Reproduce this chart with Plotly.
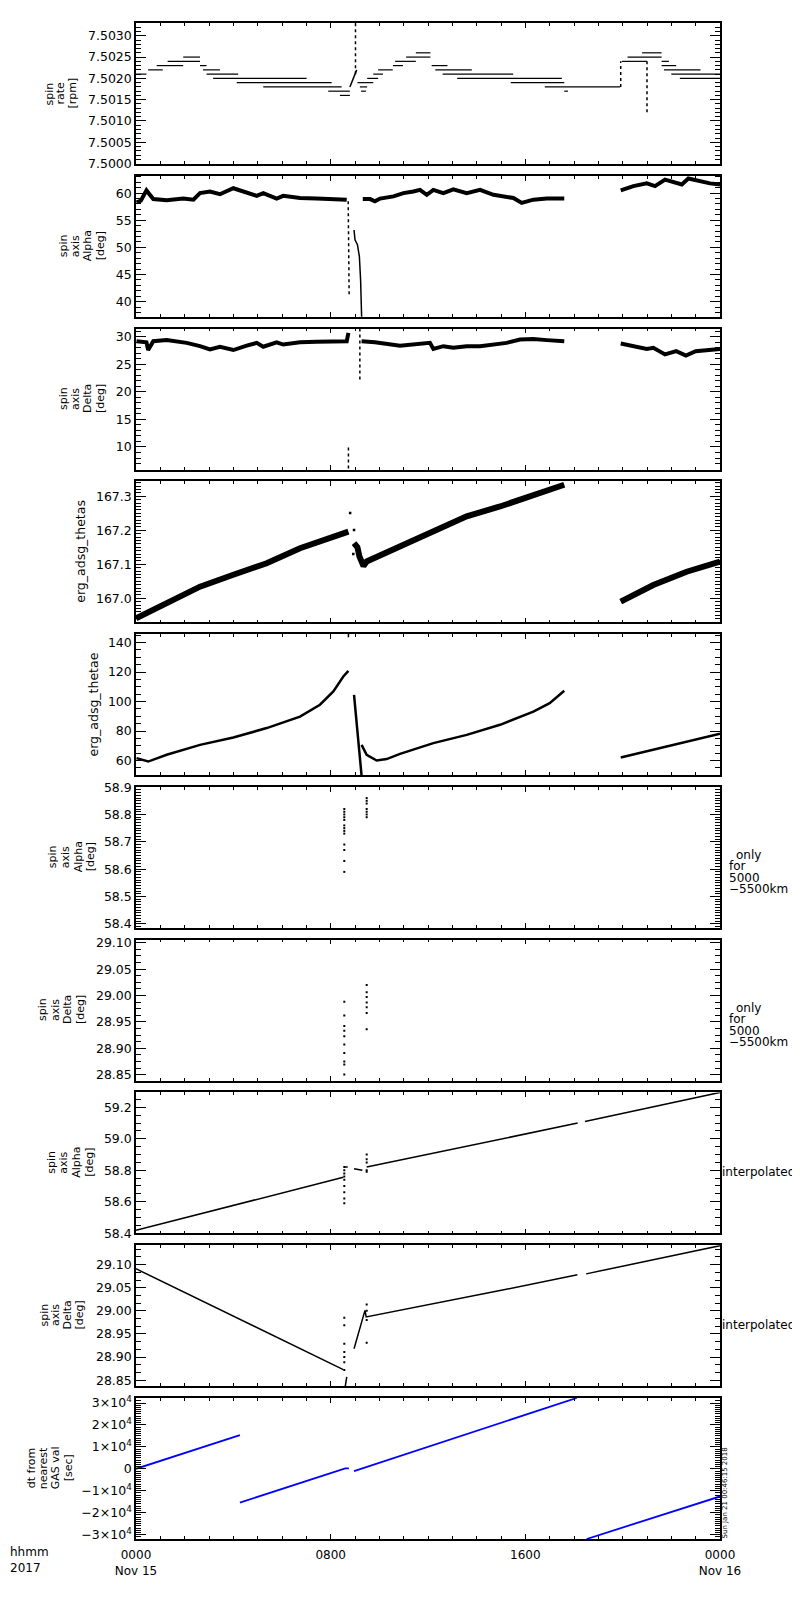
import plotly.graph_objects as go
from plotly.subplots import make_subplots

# time axis: hours after 2017-11-15 00:00

# spin rate [rpm] - flat runs (start hour, end hour, value)
rate_start = [0.00, 0.50, 0.85, 1.30, 1.94, 2.63, 2.75, 2.90, 3.17, 4.14, 5.23, 7.90, 8.38,
              9.10, 9.20, 9.25, 9.50, 9.75, 9.95, 10.56, 10.65, 11.10, 11.50,
              12.15, 12.30, 12.60, 13.20, 15.40, 16.80, 17.60,
              19.97, 20.20, 20.80, 21.60, 21.60, 21.70, 22.00, 22.35]
rate_end = [0.43, 1.10, 1.94, 2.63, 2.63, 2.90, 3.45, 4.20, 7.01, 8.04, 8.45, 8.79, 8.79,
            9.75, 9.50, 9.45, 9.95, 10.15, 10.55, 10.97, 11.50, 12.10, 12.10,
            12.80, 13.80, 15.50, 17.50, 17.60, 19.90, 17.75,
            21.00, 21.60, 21.60, 21.90, 22.20, 23.20, 24.00, 24.00]
rate_val = [7.5021, 7.5022, 7.5023, 7.5024, 7.5025, 7.5023, 7.5022, 7.5021, 7.5020, 7.5019, 7.5018, 7.5017, 7.5016,
            7.5019, 7.5018, 7.5017, 7.5020, 7.5021, 7.5022, 7.5023, 7.5024, 7.5025, 7.5026,
            7.5023, 7.5022, 7.5021, 7.5020, 7.5019, 7.5018, 7.5017,
            7.5024, 7.5025, 7.5026, 7.5024, 7.5023, 7.5022, 7.5021, 7.5020]
rate_ramp_t = [8.79, 9.07]
rate_ramp_v = [7.5018, 7.5022]
rate_spike_t = [9.02, 9.02, None, 19.92, 19.92, None, 21.0, 21.0]
rate_spike_v = [7.5021, 7.5033, None, 7.5018, 7.5024, None, 7.5024, 7.5012]

# spin axis Alpha [deg]
alpha_t = [0.02, 0.2, 0.43, 0.71, 1.26, 1.94, 2.36, 2.63, 3.04, 3.45, 4.0, 4.55, 4.96, 5.23, 5.78,
           6.05, 6.74, 7.42, 8.11, 8.66, None,
           9.32, 9.62, 9.82, 10.03, 10.58, 10.99, 11.4, 11.67, 11.95, 12.22, 12.63, 13.04, 13.59,
           14.14, 14.69, 15.23, 15.51, 15.85, 16.33, 16.88, 17.6, None,
           19.92, 20.44, 20.99, 21.33, 21.74, 22.08, 22.43, 22.7, 23.18, 23.59, 24.0]
alpha_v = [58.3, 58.6, 60.5, 58.9, 58.7, 59.0, 58.8, 60.0, 60.3, 59.8, 60.9, 60.0, 59.5, 60.0, 59.0,
           59.5, 59.1, 59.0, 58.8, 58.8, None,
           58.9, 58.9, 58.5, 59.0, 59.4, 60.0, 60.3, 60.6, 59.7, 60.6, 60.0, 60.7, 60.0,
           60.6, 59.7, 59.4, 59.1, 58.2, 58.8, 59.0, 59.0, None,
           60.5, 61.3, 61.8, 61.3, 62.5, 62.0, 61.6, 62.7, 62.2, 61.8, 61.6]
alpha_fall_t = [8.96, 9.0, 9.1, 9.18, 9.23, 9.28]
alpha_fall_v = [53.2, 51.4, 50.5, 48.3, 44.0, 36.0]
alpha_spike_t = [8.72, 8.76]
alpha_spike_v = [58.5, 40.9]

# spin axis Delta [deg]
delta_t = [0.02, 0.43, 0.5, 0.71, 1.26, 2.08, 2.63, 3.04, 3.45, 4.0, 4.55, 4.96, 5.23, 5.78, 6.05,
           6.74, 7.42, 8.66, 8.73, None,
           9.27, 9.82, 10.85, 12.08, 12.22, 12.63, 13.04, 13.59, 14.14, 14.69, 15.23, 15.78,
           16.33, 16.88, 17.6, None,
           19.92, 20.44, 20.99, 21.26, 21.74, 22.2, 22.6, 23.0, 23.59, 24.0]
delta_v = [29.2, 29.0, 27.6, 29.2, 29.4, 28.9, 28.3, 27.7, 28.2, 27.6, 28.4, 28.9, 28.2, 29.0, 28.6,
           29.0, 29.1, 29.2, 30.7, None,
           29.2, 29.0, 28.4, 28.9, 27.8, 28.3, 28.0, 28.3, 28.3, 28.6, 28.9, 29.5,
           29.6, 29.4, 29.2, None,
           28.8, 28.3, 27.8, 28.0, 26.8, 27.4, 26.6, 27.4, 27.7, 27.8]
delta_spike_t = [8.73, 8.73, None, 9.2, 9.2]
delta_spike_v = [9.9, 6.0, None, 31.5, 21.9]

# erg_adsg_thetas
thetas_t = [0.0, 1.26, 2.63, 4.0, 5.37, 6.74, 8.11, 8.73, None,
            8.96, 9.1, 9.18, 9.27, 9.35, 9.48, 10.85, 12.22, 13.59, 14.96, 16.33, 17.6, None,
            19.92, 21.26, 22.63, 24.0]
thetas_v = [166.941, 166.985, 167.034, 167.069, 167.103, 167.147, 167.182, 167.196, None,
            167.162, 167.15, 167.123, 167.103, 167.095, 167.108, 167.152, 167.2, 167.241, 167.27,
            167.305, 167.334, None,
            166.99, 167.039, 167.078, 167.108]
thetas_dot_t = [8.8, 8.96, 8.93]
thetas_dot_v = [167.251, 167.201, 167.13]

# erg_adsg_thetae
thetae_t = [0.02, 0.5, 1.26, 2.63, 4.0, 5.37, 6.74, 7.56, 8.11, 8.52, 8.73, None,
            8.96, 9.28, None,
            9.27, 9.48, 9.89, 10.3, 10.85, 12.22, 13.59, 14.96, 16.33, 17.0, 17.6, None,
            19.92, 21.26, 22.63, 24.0]
thetae_v = [61.6, 59.3, 63.9, 70.6, 75.6, 82.0, 89.8, 97.8, 106.8, 117.0, 120.8, None,
            104.5, 48.0, None,
            70.6, 63.9, 60.0, 61.0, 64.5, 71.8, 77.4, 84.2, 93.2, 98.9, 107.3, None,
            62.0, 67.3, 72.2, 78.1]
thetae_spike_t = [8.73, 8.73]
thetae_spike_v = [143.5, 146.0]

# spin axis Alpha, only for 5000-5500 km
alpha_alt_t = [8.56] * 13 + [9.48] * 7
alpha_alt_v = [58.82, 58.81, 58.80, 58.79, 58.78, 58.76, 58.75, 58.74, 58.73, 58.69, 58.67, 58.63, 58.59,
               58.86, 58.85, 58.84, 58.82, 58.81, 58.80, 58.79]

# spin axis Delta, only for 5000-5500 km
delta_alt_t = [8.56] * 10 + [9.48] * 7
delta_alt_v = [28.988, 28.962, 28.942, 28.933, 28.923, 28.907, 28.891, 28.875, 28.869, 28.850,
               29.020, 29.006, 28.997, 28.987, 28.978, 28.967, 28.936]

# spin axis Alpha, interpolated
alpha_int_t = [0.0, 8.52, None, 8.58, 8.70, None, 8.96, 9.30, None, 9.48, 18.15, None, 18.45, 24.0]
alpha_int_v = [58.418, 58.755, None, 58.82, 58.82, None, 58.81, 58.80, None, 58.82, 59.10, None, 59.11, 59.295]
alpha_int_dot_t = [8.56] * 9 + [9.48] * 5
alpha_int_dot_v = [58.82, 58.80, 58.78, 58.76, 58.74, 58.70, 58.66, 58.62, 58.59,
                   58.90, 58.87, 58.85, 58.80, 58.79]

# spin axis Delta, interpolated
delta_int_t = [0.0, 8.52, None, 8.58, 8.66, None, 8.96, 9.41, 9.46, 10.85, 14.96, 18.14, None, 18.5, 24.0]
delta_int_v = [29.091, 28.873, None, 28.83, 28.857, None, 28.918, 29.001, 28.987, 29.001, 29.044, 29.078,
               None, 29.08, 29.141]
delta_int_dot_t = [8.56] * 7 + [9.48] * 4
delta_int_dot_v = [28.985, 28.969, 28.929, 28.911, 28.900, 28.889, 28.872,
                   29.014, 29.0, 28.98, 28.931]

# dt from nearest GAS val [sec]
dt_t = [0.0, 4.27, None, 4.27, 8.6, 8.75, None, 8.96, 18.11, None, 18.52, 24.0]
dt_v = [0, 15400, None, -15400, 200, 200, None, -1100, 32300, None, -32000, -12600]
dt_tickvals = [-30000, -20000, -10000, 0, 10000, 20000, 30000]
dt_ticktext = ["\u22123\u00d710<sup>4</sup>", "\u22122\u00d710<sup>4</sup>", "\u22121\u00d710<sup>4</sup>", "0",
               "1\u00d710<sup>4</sup>", "2\u00d710<sup>4</sup>", "3\u00d710<sup>4</sup>"]

x_tickvals = [0, 8, 16, 24]
x_ticktext = ["0000<br>Nov 15", "0800", "1600", "0000<br>Nov 16"]

FONT = "DejaVu Sans"
# page body has an 8px margin, so the figure is drawn 8px smaller and offset
W, H = 792, 1584
L, T = 128, 15
PW, PH = 584, 1516
R, B = W - L - PW, H - T - PH
PITCH = 152.75

fig = make_subplots(rows=10, cols=1, shared_xaxes=True, vertical_spacing=11.75 / PH)


def line(row, t, v, width=1.5, color="black", dash="solid"):
    fig.add_trace(go.Scatter(x=t, y=v, mode="lines", line=dict(color=color, width=width, dash=dash),
                             hoverinfo="skip", showlegend=False), row=row, col=1)


def dots(row, t, v, size=2.5):
    fig.add_trace(go.Scatter(x=t, y=v, mode="markers", marker=dict(color="black", size=size, symbol="square"),
                             hoverinfo="skip", showlegend=False), row=row, col=1)


rx, ry = [], []
for a, b, val in zip(rate_start, rate_end, rate_val):
    rx += [a, b, None]
    ry += [val, val, None]
line(1, rx, ry, width=1.2)
line(1, rate_ramp_t, rate_ramp_v)
line(1, rate_spike_t, rate_spike_v, dash="dot")

line(2, alpha_t, alpha_v, width=4)
line(2, alpha_fall_t, alpha_fall_v)
line(2, alpha_spike_t, alpha_spike_v, dash="dot")

line(3, delta_t, delta_v, width=4)
line(3, delta_spike_t, delta_spike_v, dash="dot")

line(4, thetas_t, thetas_v, width=6)
dots(4, thetas_dot_t, thetas_dot_v)

line(5, thetae_t, thetae_v, width=2.5)
line(5, thetae_spike_t, thetae_spike_v)

dots(6, alpha_alt_t, alpha_alt_v, size=2)
dots(7, delta_alt_t, delta_alt_v, size=2)

line(8, alpha_int_t, alpha_int_v)
dots(8, alpha_int_dot_t, alpha_int_dot_v, size=2)

line(9, delta_int_t, delta_int_v)
dots(9, delta_int_dot_t, delta_int_dot_v, size=2)

line(10, dt_t, dt_v, color="#0000ff", width=1.8)

y_cfg = [
    dict(range=[7.49999, 7.5033], tick0=7.5, dtick=0.0005, tickformat=".4f", mdt=0.0001),
    dict(range=[37.2, 63.2], tick0=0, dtick=5, tickformat="d", mdt=1),
    dict(range=[5.9, 31.5], tick0=0, dtick=5, tickformat="d", mdt=1),
    dict(range=[166.929, 167.344], tick0=167, dtick=0.1, tickformat=".1f", mdt=0.01),
    dict(range=[50.1, 145.7], tick0=0, dtick=20, tickformat="d", mdt=5),
    dict(range=[58.385, 58.901], tick0=58, dtick=0.1, tickformat=".1f", mdt=0.01),
    dict(range=[28.8385, 29.106], tick0=28.85, dtick=0.05, tickformat=".2f", mdt=0.0125),
    dict(range=[58.398, 59.295], tick0=58.4, dtick=0.2, tickformat=".1f", mdt=0.05),
    dict(range=[28.837, 29.142], tick0=28.85, dtick=0.05, tickformat=".2f", mdt=0.05 / 3),
    dict(range=[-32000, 32300], tick0=0, dtick=10000, tickformat="d", mdt=1000),
]

for i, c in enumerate(y_cfg):
    n = "" if i == 0 else str(i + 1)
    ya = dict(range=c["range"], tick0=c["tick0"], dtick=c["dtick"], tickformat=c["tickformat"],
              ticks="inside", ticklen=10, tickwidth=1, tickcolor="black", mirror="ticks",
              showline=True, linecolor="black", linewidth=1.5, showgrid=False, zeroline=False,
              tickfont=dict(family=FONT, size=12.5, color="black"),
              minor=dict(tick0=c["tick0"], dtick=c["mdt"], ticks="inside", ticklen=5, tickwidth=1,
                         tickcolor="black", showgrid=False))
    if i == 9:
        ya.update(tickmode="array", tickvals=dt_tickvals, ticktext=dt_ticktext)
    fig.layout["yaxis" + n].update(ya)
    fig.layout["xaxis" + n].update(
        range=[0, 24], tickmode="array", tickvals=x_tickvals, ticktext=x_ticktext,
        showticklabels=(i == 9), ticks="inside", ticklen=5, tickwidth=1, tickcolor="black",
        mirror="ticks", showline=True, linecolor="black", linewidth=1.5, showgrid=False, zeroline=False,
        tickfont=dict(family=FONT, size=12, color="black"), ticklabelstandoff=4,
        minor=dict(tick0=0, dtick=1, ticks="inside", ticklen=3, tickwidth=1, tickcolor="black", showgrid=False))


# positions below are given in reference-image pixels
def px_x(px):
    return (px - 136) / PW


def px_y(py):
    return 1 - (py - 23) / PH


def text(px, py, s, size=12.5, angle=0, xanchor="center"):
    fig.add_annotation(x=px_x(px), y=px_y(py), xref="paper", yref="paper", text=s, showarrow=False,
                       textangle=angle, xanchor=xanchor, yanchor="middle", align="left",
                       font=dict(family=FONT, size=size, color="black"))


titles = [
    (["spin", "rate", "[rpm]"], [49, 60, 72]),
    (["spin", "axis", "Alpha", "[deg]"], [63, 75, 87, 100]),
    (["spin", "axis", "Delta", "[deg]"], [64, 76, 88, 101]),
    (["erg_adsg_thetas"], [81]),
    (["erg_adsg_thetae"], [93]),
    (["spin", "axis", "Alpha", "[deg]"], [52, 65, 78, 90]),
    (["spin", "axis", "Delta", "[deg]"], [42, 55, 67, 80]),
    (["spin", "axis", "Alpha", "[deg]"], [52, 64, 77, 90]),
    (["spin", "axis", "Delta", "[deg]"], [44, 55.5, 67, 79]),
    (["dt from", "nearest", "GAS val", "[sec]"], [31, 43, 55, 68]),
]
for i, (lines, xs) in enumerate(titles):
    cy = 23 + i * PITCH + 70.5
    size = 12.5 if len(lines) == 1 else 11
    for s, x in zip(lines, xs):
        text(x, cy, s, size=size, angle=-90)

for py0 in (855, 1008):
    text(734, py0, "only", size=12, xanchor="left")
    text(727, py0 + 11, "for", size=12, xanchor="left")
    text(727, py0 + 22.5, "5000", size=12, xanchor="left")
    text(727, py0 + 34, "\u22125500km", size=12, xanchor="left")
text(720, 1171.7, "interpolated", size=12, xanchor="left")
text(720, 1325, "interpolated", size=12, xanchor="left")

text(724.5, 1493, "Sun Jan 21 00:46:15 2018", size=7, angle=-90)
text(8, 1560, "hhmm<br>2017", size=12, xanchor="left")

fig.update_layout(width=W, height=H, margin=dict(l=L, r=R, t=T, b=B, autoexpand=False),
                  plot_bgcolor="white", paper_bgcolor="white", showlegend=False,
                  font=dict(family=FONT, size=12.5, color="black"))

fig.write_html("out.html")
